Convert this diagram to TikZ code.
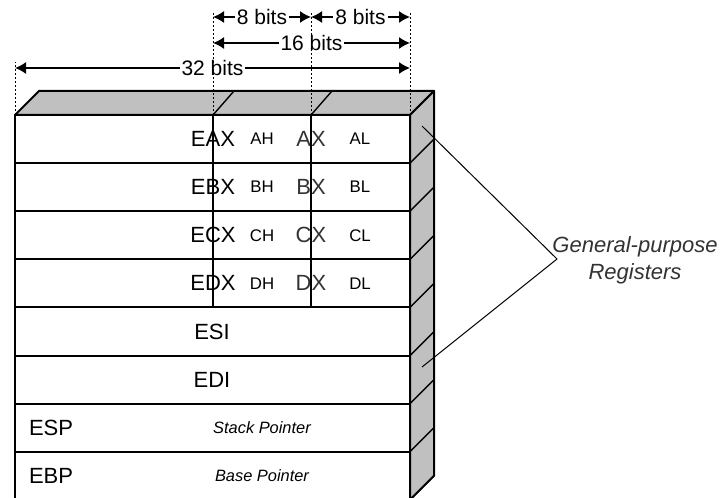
\documentclass[tikz,border=0pt]{standalone}
\usepackage{fontspec}
\setmainfont{Liberation Sans}
\usetikzlibrary{arrows.meta,calc}

\definecolor{face}{RGB}{192,192,192}

\begin{document}
\begin{tikzpicture}[x=0.5pt,y=-0.5pt,>={Latex[length=5.5pt,width=6pt]},line join=round,
	box/.style={line width=1pt},
	edge/.style={line width=0.7pt},
	regname/.style={font=\fontsize{11}{13}\selectfont},
	halfname/.style={font=\fontsize{8.4}{10}\selectfont},
	remark/.style={font=\fontsize{8.2}{10}\selectfont\itshape},
	dim/.style={<->,line width=0.7pt},
	dimlabel/.style={fill=white,inner sep=1pt,font=\fontsize{10.5}{12}\selectfont},
	ext/.style={line width=0.5pt,dash pattern=on 1pt off 1pt}]

\fill[white] (0,0) rectangle (721,497);
\useasboundingbox (0,0) rectangle (721,497);

\def\L{15}
\def\M{213}
\def\N{311}
\def\R{410}
\def\T{115}
\def\h{48.1}
\def\d{24}

% top and side of the block
\filldraw[fill=face,box]
	(\L,\T) -- (\L+\d,\T-\d) -- (\R+\d,\T-\d) -- (\R,\T) -- cycle;
\filldraw[fill=face,box]
	(\R,\T) -- (\R+\d,\T-\d) -- (\R+\d,\T+8*\h-\d) -- (\R,\T+8*\h) -- cycle;

% front with the eight registers
\draw[box] (\L,\T) rectangle (\R,\T+8*\h);
\foreach \k in {1,...,8}{
	\draw[box] (\L,\T+\k*\h) -- (\R,\T+\k*\h);
	\draw[edge] (\R,\T+\k*\h) -- ++(\d,-\d);
}

\foreach \r [count=\k] in {A,B,C,D}{
	\node[regname] (e\r) at (\M,\T+\k*\h-0.5*\h) {E\r X};
	\node[halfname] (h\r) at (262,\T+\k*\h-0.5*\h) {\r H};
	\node[regname,text=black!80] (x\r) at (\N,\T+\k*\h-0.5*\h) {\r X};
	\node[halfname] (l\r) at (360,\T+\k*\h-0.5*\h) {\r L};
}

\node[regname] (esi) at (212,\T+4.5*\h) {ESI};
\node[regname] (edi) at (212,\T+5.5*\h) {EDI};
\node[regname,anchor=west] (esp) at (22,\T+6.5*\h) {ESP};
\node[remark] (sp) at (262,\T+6.5*\h) {Stack Pointer};
\node[regname,anchor=west] (ebp) at (22,\T+7.5*\h) {EBP};
\node[remark] (bp) at (262,\T+7.5*\h) {Base Pointer};

% byte borders
\foreach \x in {\M,\N}{
	\draw[box] (\x,\T) -- (\x,\T+4*\h);
	\draw[edge] (\x,\T) -- ++(\d-3,-\d);
}

% widths
\foreach \x/\n in {\L/l,\M/m,\N/n,\R/r}
	\coordinate (top\n) at (\x,\T);

\draw[dim] (topm |- 0,17) -- node[dimlabel] (w8a) {8 bits} (topn |- 0,17);
\draw[dim] (topn |- 0,17) -- node[dimlabel] (w8b) {8 bits} (topr |- 0,17);
\draw[dim] (topm |- 0,43) -- node[dimlabel] (w16) {16 bits} (topr |- 0,43);
\draw[dim] (topl |- 0,68) -- node[dimlabel] (w32) {32 bits} (topr |- 0,68);

\draw[ext] (topl) -- (topl |- 0,62);
\foreach \n in {m,n,r}
	\draw[ext] (top\n) -- (top\n |- 0,12);

% general-purpose bracket
\node[font=\fontsize{11}{13.5}\selectfont\itshape,align=center,text=black!80]
	(gp) at (635,260) {General-purpose\\Registers};
\coordinate (apex) at (557,259);
\coordinate (tipa) at (422,126);
\coordinate (tipb) at (422,367);
\draw[line width=0.5pt] (tipa) -- (apex) -- (tipb);

\end{tikzpicture}
\end{document}
